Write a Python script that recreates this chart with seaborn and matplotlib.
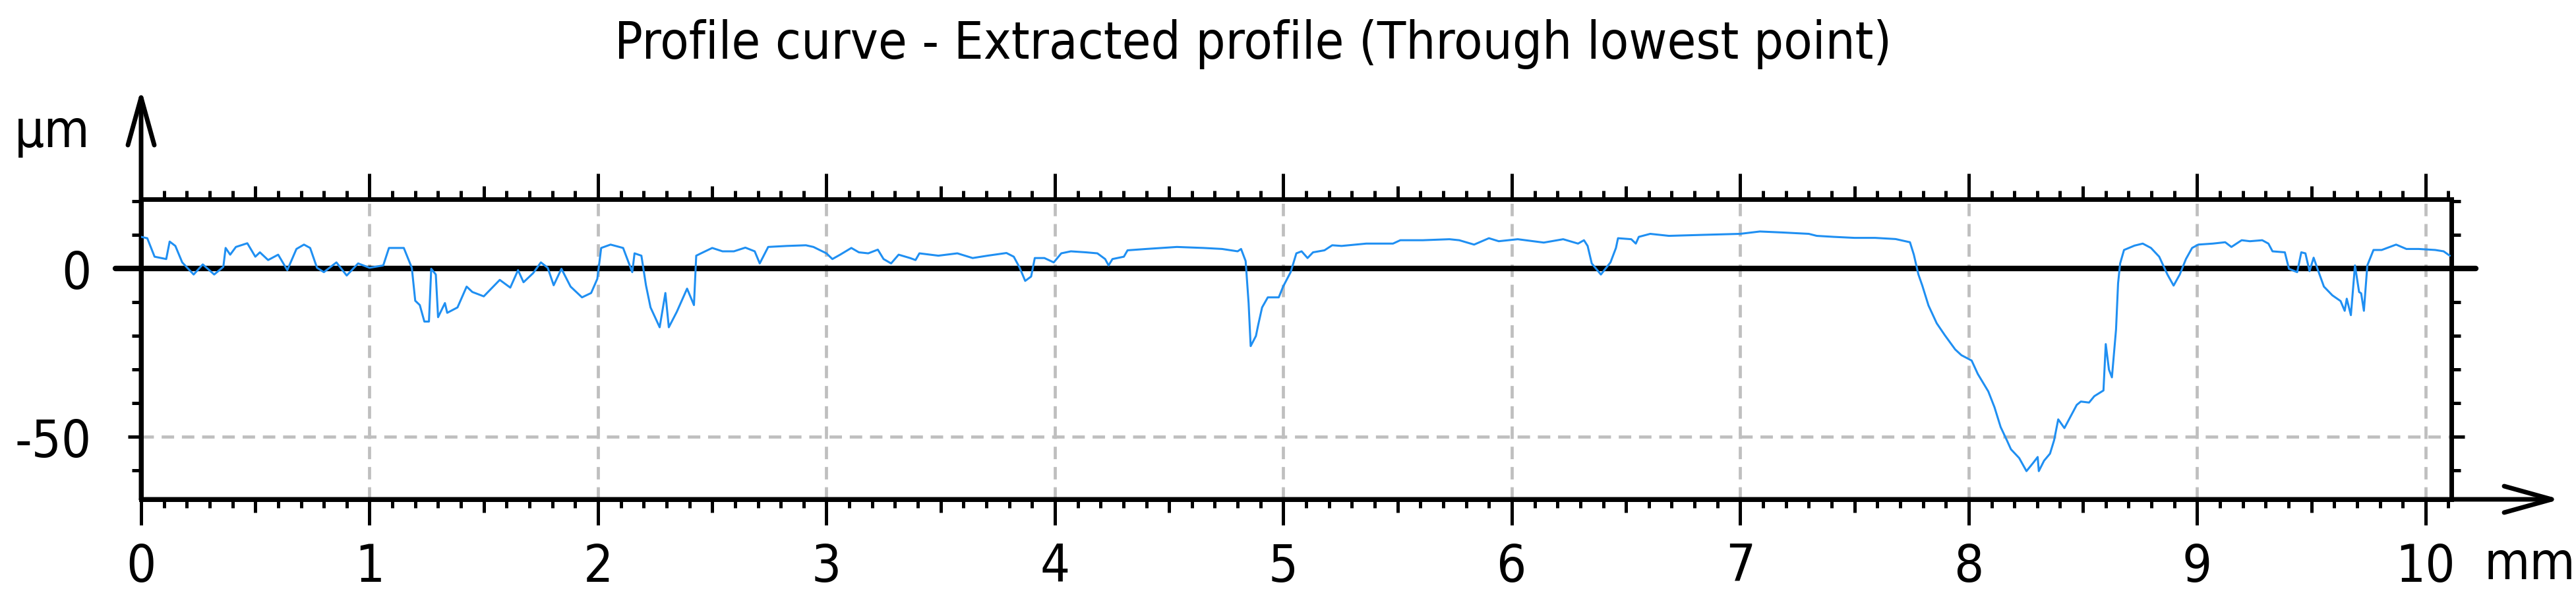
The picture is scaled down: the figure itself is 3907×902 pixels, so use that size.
import numpy as np
import pandas as pd
import matplotlib
matplotlib.use('Agg')
import matplotlib.pyplot as plt
from matplotlib.ticker import FixedLocator, MultipleLocator
import seaborn as sns

# profile: position (mm) and height (um)
x_mm = [
    0.000, 0.027, 0.059, 0.110, 0.125, 0.150, 0.180, 0.230, 0.270, 0.320,
    0.360, 0.370, 0.390, 0.415, 0.465, 0.500, 0.520, 0.556, 0.600, 0.640,
    0.680, 0.713, 0.740, 0.770, 0.800, 0.855, 0.900, 0.950, 1.000, 1.060,
    1.085, 1.150, 1.185, 1.200, 1.220, 1.240, 1.260, 1.270, 1.290, 1.300,
    1.330, 1.340, 1.385, 1.425, 1.450, 1.500, 1.570, 1.616, 1.650, 1.674,
    1.716, 1.750, 1.780, 1.806, 1.840, 1.880, 1.930, 1.970, 1.997, 2.014,
    2.055, 2.110, 2.150, 2.160, 2.190, 2.210, 2.230, 2.270, 2.295, 2.310,
    2.345, 2.390, 2.420, 2.430, 2.460, 2.500,
    2.545, 2.595, 2.645, 2.686, 2.708, 2.745, 2.827, 2.910, 2.943, 3.000,
    3.026, 3.060, 3.109, 3.142, 3.183, 3.225, 3.250, 3.283, 3.316, 3.366,
    3.390, 3.407, 3.490, 3.573, 3.640, 3.705, 3.788, 3.820, 3.846, 3.870,
    3.896, 3.912, 3.954, 3.995, 4.028, 4.070, 4.136, 4.186, 4.220, 4.235,
    4.252, 4.302, 4.318, 4.400, 4.534, 4.650, 4.732, 4.800, 4.815, 4.835,
    4.848, 4.857, 4.880, 4.890, 4.907, 4.932, 4.980, 4.999, 5.032,
    5.057, 5.080, 5.106, 5.130, 5.180, 5.214, 5.255, 5.363, 5.480, 5.512,
    5.610, 5.727, 5.770, 5.835, 5.900, 5.943, 6.026, 6.140, 6.225, 6.290,
    6.316, 6.332, 6.350, 6.390, 6.432, 6.456, 6.465, 6.523, 6.543, 6.556,
    6.606, 6.688, 6.838, 7.000, 7.086, 7.186, 7.300, 7.335, 7.410, 7.500,
    7.590, 7.680, 7.743,
    7.760, 7.780, 7.797, 7.824, 7.860, 7.896, 7.941, 7.968, 8.013, 8.040,
    8.086, 8.113, 8.140, 8.167, 8.185, 8.221, 8.253, 8.284, 8.302, 8.307,
    8.330, 8.356, 8.374, 8.392, 8.419, 8.473, 8.491, 8.527, 8.550, 8.590,
    8.600, 8.614, 8.627, 8.645, 8.654, 8.663, 8.680, 8.726, 8.762, 8.798,
    8.834, 8.870, 8.897, 8.924, 8.951, 8.978, 9.005, 9.069, 9.123, 9.150,
    9.195, 9.231, 9.285, 9.312, 9.330, 9.384, 9.402, 9.438, 9.456, 9.474,
    9.492, 9.510, 9.529, 9.555, 9.592, 9.628, 9.646, 9.655, 9.673, 9.691,
    9.709, 9.718, 9.730, 9.745, 9.772, 9.808, 9.871, 9.916, 9.970, 10.042,
    10.079, 10.106,
]
profile_um = [
    9.4, 9.0, 3.5, 2.8, 8.0, 6.7, 1.8, -1.8, 1.2, -1.8,
    0.5, 6.1, 4.1, 6.4, 7.5, 3.5, 4.8, 2.5, 4.1, -0.5,
    5.8, 7.1, 6.1, 0.2, -1.1, 1.8, -2.1, 1.5, 0.2, 0.9,
    6.1, 6.1, 0.2, -9.6, -10.9, -15.8, -15.8, -0.1, -1.8, -14.5,
    -10.3, -13.2, -11.6, -5.4, -7.0, -8.3, -3.4, -5.7, -0.5, -4.1,
    -1.4, 1.8, 0.2, -5.0, -0.1, -5.4, -8.6, -7.3, -3.1, 6.1,
    7.1, 6.1, -1.1, 4.5, 3.8, -5.0, -11.6, -17.5, -7.3, -17.5,
    -12.9, -6.0, -10.9, 3.8, 4.8, 6.1,
    5.1, 5.1, 6.2, 5.1, 1.5, 6.4, 6.7, 6.9, 6.4, 4.5,
    2.8, 4.1, 6.1, 4.8, 4.5, 5.6, 2.8, 1.5, 4.1, 3.1,
    2.5, 4.5, 3.8, 4.5, 3.1, 3.8, 4.6, 3.5, 0.2, -3.7,
    -2.4, 3.1, 3.1, 1.8, 4.5, 5.1, 4.8, 4.5, 2.8, 0.9,
    2.8, 3.5, 5.4, 5.8, 6.4, 6.1, 5.8, 5.1, 5.8, 2.2,
    -10.3, -23.1, -20.1, -16.8, -11.6, -8.6, -8.6, -5.4, -1.1,
    4.5, 5.1, 3.1, 4.8, 5.4, 6.9, 6.7, 7.4, 7.4, 8.4,
    8.4, 8.7, 8.4, 7.1, 9.0, 8.1, 8.7, 7.7, 8.7, 7.4,
    8.4, 6.7, 1.5, -1.8, 1.8, 6.1, 9.0, 8.7, 7.4, 9.4,
    10.3, 9.7, 10.0, 10.3, 11.0, 10.7, 10.3, 9.7, 9.4, 9.1,
    9.1, 8.75, 7.8,
    4.1, -1.8, -5.1, -11.0, -16.3, -19.9, -24.1, -25.8, -27.4, -31.4,
    -36.6, -41.3, -47.2, -51.1, -53.8, -56.4, -60.3, -57.7, -56.1, -60.3,
    -57.2, -55.1, -51.1, -44.9, -47.5, -40.6, -39.6, -39.9, -38.0, -36.3,
    -22.5, -30.1, -32.4, -18.2, -4.4, 1.5, 5.5, 6.8, 7.4, 6.1,
    3.5, -1.8, -5.1, -1.8, 2.8, 6.1, 7.1, 7.4, 7.8, 6.4,
    8.4, 8.1, 8.4, 7.4, 5.1, 4.8, -0.1, -1.1, 4.8, 4.5,
    -0.8, 3.2, -0.5, -5.4, -8.0, -9.7, -12.6, -9.0, -13.9, 0.9,
    -7.0, -7.4, -12.6, 0.9, 5.5, 5.5, 7.1, 5.8, 5.8, 5.5,
    5.1, 3.8,
]

x_ticks = list(range(0, 11))
y_ticks = [0, -50]
y_tick_labels = ['0', '-50']
title = 'Profile curve - Extracted profile (Through lowest point)'

sns.set_style('white')
plt.rcParams['font.family'] = ['DejaVu Sans']
plt.rcParams['font.stretch'] = 'condensed'
plt.rcParams['text.color'] = 'black'
plt.rcParams['xtick.color'] = 'black'
plt.rcParams['ytick.color'] = 'black'
plt.rcParams['xtick.labelcolor'] = 'black'
plt.rcParams['ytick.labelcolor'] = 'black'

W, H = 3907, 903
fig = plt.figure(figsize=(W / 100, H / 100), dpi=100)
ax = fig.add_axes([214 / W, 1 - 758 / H, (3718 - 214) / W, (758 - 302.5) / H])

df = pd.DataFrame({'x': x_mm, 'z': profile_um})
sns.lineplot(data=df, x='x', y='z', ax=ax, color='#1f8ff2', lw=2.2,
             sort=False, estimator=None, zorder=4)

ax.set_xlim(0, 10.113)
ax.set_ylim(-68.7, 20.7)
ax.set_xlabel('')
ax.set_ylabel('')

for sp in ax.spines.values():
    sp.set_visible(True)
    sp.set_color('black')
    sp.set_linewidth(5)

# ticks
ax.xaxis.set_major_locator(FixedLocator(x_ticks))
ax.xaxis.set_minor_locator(MultipleLocator(0.1))
ax.yaxis.set_major_locator(FixedLocator(y_ticks))
ax.yaxis.set_minor_locator(MultipleLocator(10))
ax.set_yticklabels(y_tick_labels)
ax.tick_params(axis='x', which='major', direction='out', length=28, width=3.6,
               top=True, bottom=True, labelsize=57, pad=18, colors='black')
ax.tick_params(axis='x', which='minor', direction='out', length=9.5, width=3.6,
               top=True, bottom=True, colors='black')
ax.tick_params(axis='y', which='major', direction='out', length=14.4, width=3.6,
               left=True, right=True, labelsize=57, pad=40, colors='black')
ax.tick_params(axis='y', which='minor', direction='out', length=10, width=3.6,
               left=True, right=True, colors='black')

# half-mm ticks, a bit longer than the minor ones
trans = ax.get_xaxis_transform()
half_len = 20 / 455.5
for xh in np.arange(0.5, 10.1, 1.0):
    ax.plot([xh, xh], [0, -half_len], transform=trans, color='black', lw=3.6,
            clip_on=False, solid_capstyle='butt')
    ax.plot([xh, xh], [1, 1 + half_len], transform=trans, color='black', lw=3.6,
            clip_on=False, solid_capstyle='butt')

# grid
ax.set_axisbelow(True)
ax.grid(True, axis='both', which='major', color='#bfbfbf', lw=3.4,
        ls=(0, (4.0, 2.5)))

# zero line
ax.axhline(0, xmin=-0.0111, xmax=1.0106, color='black', lw=6, clip_on=False, zorder=3)

# axis arrows
arrow = dict(arrowstyle='->,head_length=0.72,head_width=0.2', mutation_scale=72,
             lw=5, color='black', shrinkA=0, shrinkB=0)
ax.annotate('', xy=(0, 1 + (302.5 - 136) / 455.5), xytext=(0, 0),
            xycoords='axes fraction', textcoords='axes fraction',
            arrowprops=arrow, annotation_clip=False)
ax.annotate('', xy=(1 + (3883 - 3718) / 3504, 0), xytext=(0, 0),
            xycoords='axes fraction', textcoords='axes fraction',
            arrowprops=arrow, annotation_clip=False)

# units and title
fig.text(137 / W, 1 - 223 / H, 'µm', ha='right', va='baseline', fontsize=57, color='black')
fig.text(3767 / W, 1 - 878 / H, 'mm', ha='left', va='baseline', fontsize=57, color='black')
fig.text(1901 / W, 1 - 89 / H, title, ha='center', va='baseline', fontsize=57, color='black')

plt.savefig('out.png', dpi=100)
